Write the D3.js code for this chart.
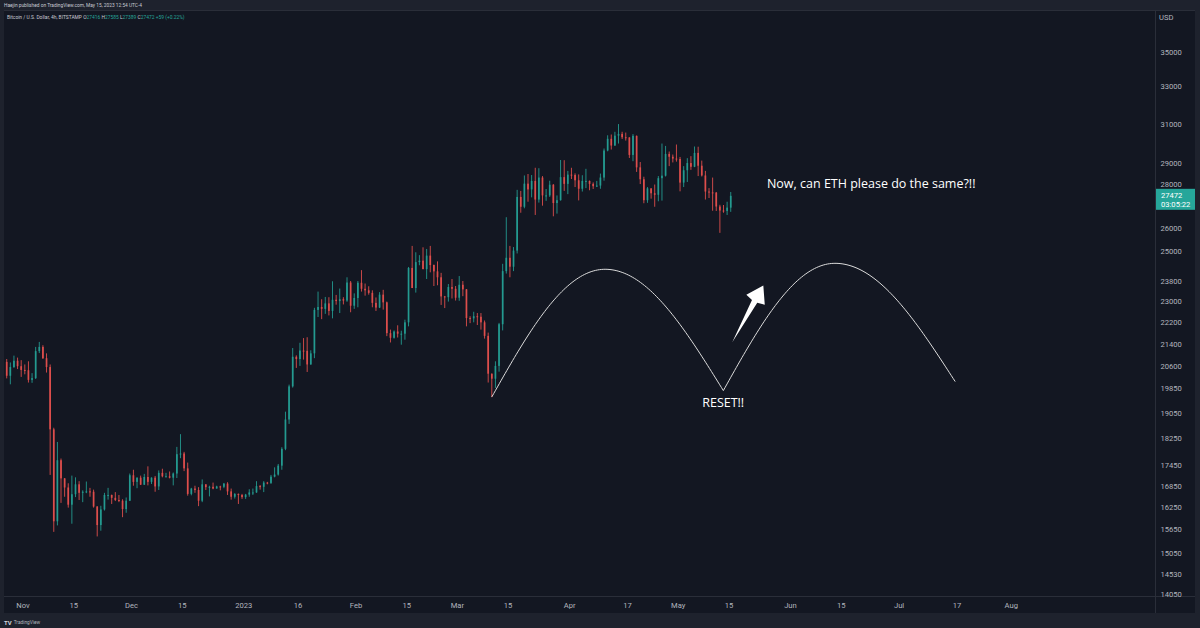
<!DOCTYPE html>
<html><head><meta charset="utf-8">
<script src="https://cdn.jsdelivr.net/npm/d3@7"></script>
<style>
html,body{margin:0;padding:0;background:#1e222d;}
svg{display:block;}
</style></head><body>
<svg id="c" width="1200" height="628"></svg>
<script>
// ---------- DATA (daily OHLC, BTC/USD Bitstamp) ----------
const startDate = "2022-10-27";
const firstOpen = 20770;
const highs = [
20870,20750,20990,20920,20830,
20680,20790,20380,21300,21480,21360,21070,20680,18590,18150,17650,17080,16930,17150,17100,16990,16730,16980,16800,16750,16290,16300,16660,16800,16610,16680,16600,16480,16530,17210,
17320,17100,17150,17200,17420,17100,17140,17300,17350,17230,17270,17240,18000,18390,17850,17530,16800,16860,16820,17040,16900,16860,16950,16860,16860,16940,16960,16780,16650,16640,16630,
16630,16760,16780,16990,16880,16990,16970,17170,17390,17490,17990,19100,19990,21260,21000,21450,21620,21650,21180,22750,23380,23080,23170,23160,23790,23250,23500,23160,23950,23800,23310,
23800,24240,23700,23590,23430,23150,23360,23450,22990,21930,21900,22090,21890,22300,24370,25250,24980,24860,25190,25120,25250,24470,24600,24130,23210,23680,23880,23600,
24000,23800,23480,22430,22600,22550,22550,22270,21820,20370,20790,22180,24500,26500,25250,25200,27750,27700,28430,28500,28450,28800,28780,28400,27790,28180,28020,27490,29180,29170,28650,
28800,28530,28480,28440,28750,28190,28100,28170,28520,29750,30420,30460,30600,31000,30600,30560,30320,30480,30410,29080,28370,27880,27820,28000,28400,30000,29880,29600,29450,29950,
29330,28880,29270,29370,29850,29840,29150,28650,27830,28330,27650,27060,27050,27200,27650
];
const lows = [
20200,20000,20560,20520,20250,
20340,20060,20050,20180,21080,20870,20400,17170,15600,15770,16380,16550,16250,15815,16540,16460,16400,16650,16550,16250,15480,15630,16170,16470,16350,16430,16400,15990,16110,16430,
16860,16790,16880,16880,16870,16910,16690,16740,17100,17100,17070,16870,17080,17660,17280,16580,16590,16660,16290,16400,16740,16560,16760,16780,16730,16790,16600,16470,16500,16350,16490,
16490,16550,16600,16660,16750,16680,16900,16910,17100,17150,17320,17900,18710,19890,20560,20630,20850,20420,20670,20900,22400,22320,22520,22460,22350,22870,22550,22880,22980,22580,22710,
22770,23380,23220,23260,22770,22630,22740,22680,21690,21460,21600,21640,21380,21560,22050,23520,23340,24440,24280,23880,24150,23600,23630,22860,22740,22990,23110,23030,
23020,23200,22050,22170,22200,22100,21930,21600,20060,19570,19880,20430,21900,24100,23950,24200,24930,26700,26900,27200,27400,26600,27160,27020,27240,27420,26540,26660,27250,27700,27550,
28260,27880,27260,27670,27830,27730,27790,27880,27800,28180,29610,29700,29880,30000,30230,30150,29280,29120,28600,28020,27130,27150,27340,26970,27220,27250,28380,28880,29060,29100,
27680,27880,28120,28700,28830,28400,28380,27300,27370,26790,26780,25810,26700,26600,26740
];
const closes = [
20290,20590,20810,20620,20490,
20480,20150,20210,21150,21300,20900,20590,18540,15880,17600,17070,16810,16330,16620,16900,16660,16690,16700,16690,16280,15780,16200,16600,16600,16520,16460,16440,16210,16440,17160,
16970,17090,16890,17110,16970,17090,16840,17230,17130,17130,17090,17210,17780,17800,17360,16630,16780,16740,16440,16900,16820,16830,16780,16840,16830,16920,16700,16550,16630,16600,16540,
16610,16670,16670,16850,16830,16950,16940,17120,17180,17440,17940,18850,19930,20950,20870,21170,21160,20680,21070,22670,22780,22710,22920,22630,23060,23010,23080,23030,23740,22830,23130,
23730,23490,23430,23330,22940,22760,23260,22960,21800,21630,21860,21780,21780,22200,24330,23520,24570,24630,24280,24840,24450,24190,23950,23190,23160,23560,23490,23140,
23650,23470,22360,22350,22430,22410,22200,21700,20360,20190,20630,22130,24200,24750,24380,25050,27420,26970,28040,27770,28170,27300,28330,27490,27490,27990,27140,27270,28350,28030,28470,
28450,28200,27800,28170,28170,28030,27920,27950,28330,29650,30240,29900,30400,30490,30320,30310,29430,30390,28820,28250,27270,27820,27590,27520,28300,28420,29480,29340,29250,29230,
28090,28680,29030,28850,29530,28900,28430,27670,27630,27620,26980,26800,26780,26930,27472
];
const priceTicks = [35000,33000,31000,29000,28000,26000,25000,23800,23000,22200,21400,20600,19850,19050,18250,17450,16850,16250,15650,15050,14530,14050];
const timeTicks = ["2022-11-01","2022-11-15","2022-12-01","2022-12-15","2023-01-01","2023-01-16","2023-02-01","2023-02-15","2023-03-01","2023-03-15","2023-04-01","2023-04-17","2023-05-01","2023-05-15","2023-06-01","2023-06-15","2023-07-01","2023-07-17","2023-08-01"];
const timeTickLabels = ["Nov","15","Dec","15","2023","16","Feb","15","Mar","15","Apr","17","May","15","Jun","15","Jul","17","Aug"];
const lastPrice = 27472;
const countdown = "03:05:22";
const legendLabel = "Bitcoin / U.S. Dollar, 4h, BITSTAMP";
const legendOHLC = [["O","27416"],["H","27585"],["L","27389"],["C","27472"]];
const legendChange = "+59 (+0.22%)";
const headerText = "Haejin published on TradingView.com, May 15, 2023 12:54 UTC-4";
// annotations (date, price)
const arc1 = [["2023-03-10T12:00Z",19580],["2023-04-10T19:00Z",24275],["2023-05-13T11:00Z",19790]];
const arc2 = [["2023-05-13T11:00Z",19790],["2023-06-13T07:00Z",24520],["2023-07-16T12:00Z",20093]];
const arrowPts = [["2023-05-15T22:00Z",21470],["2023-05-24T12:00Z",23620]];
const notes = [
  {text:"RESET!!", date:"2023-05-13T10:00Z", price:19383, anchor:"middle"},
  {text:"Now, can ETH please do the same?!!", date:"2023-05-25T12:00Z", price:28024, anchor:"start"}
];

// ---------- LAYOUT ----------
const W=1200,H=628;
const pane={x0:4,x1:1155,y0:11,y1:596};
const axisR=1195, timeBottom=613;
const UP="#26a69a", DOWN="#ef5350", BG="#131722", FRAME="#1e222d", LINE="#2a2e39", TXT="#b2b5be";
const FONT="Roboto, 'Noto Sans', sans-serif";

const svg=d3.select("#c");
svg.append("rect").attr("width",W).attr("height",H).attr("fill",FRAME);
svg.append("rect").attr("x",pane.x0).attr("y",pane.y0).attr("width",axisR-pane.x0).attr("height",timeBottom-pane.y0).attr("fill",BG);
svg.append("line").attr("x1",pane.x1+0.5).attr("x2",pane.x1+0.5).attr("y1",pane.y0).attr("y2",timeBottom).attr("stroke",LINE);
svg.append("line").attr("x1",pane.x0).attr("x2",axisR).attr("y1",pane.y1+0.5).attr("y2",pane.y1+0.5).attr("stroke",LINE);
svg.append("line").attr("x1",pane.x0).attr("x2",axisR).attr("y1",pane.y0-0.5).attr("y2",pane.y0-0.5).attr("stroke",LINE);

const pd=d3.utcParse("%Y-%m-%d");
const x=d3.scaleUtc().domain([pd("2022-11-01"),pd("2023-08-01")]).range([23,1011.3]);
const y=d3.scaleLog().domain([14050,35000]).range([594,52]);

const t0=pd(startDate);
const candles=closes.map((c,i)=>({
  date:d3.utcHour.offset(d3.utcDay.offset(t0,i),12),
  o:i===0?firstOpen:closes[i-1], h:highs[i], l:lows[i], c:c
}));

svg.append("defs").append("clipPath").attr("id","pc").append("rect")
  .attr("x",pane.x0).attr("y",pane.y0).attr("width",pane.x1-pane.x0).attr("height",pane.y1-pane.y0);
const g=svg.append("g").attr("clip-path","url(#pc)");

const bw=1.7;
const cg=g.append("g").attr("opacity",0.92).selectAll("g").data(candles).join("g");
cg.append("line")
  .attr("x1",d=>x(d.date)).attr("x2",d=>x(d.date))
  .attr("y1",d=>y(d.h)).attr("y2",d=>y(d.l))
  .attr("stroke",d=>d.c>=d.o?UP:DOWN).attr("stroke-width",0.9);
cg.append("rect")
  .attr("x",d=>x(d.date)-bw/2).attr("width",bw)
  .attr("y",d=>y(Math.max(d.o,d.c)))
  .attr("height",d=>Math.max(1,Math.abs(y(d.o)-y(d.c))))
  .attr("fill",d=>d.c>=d.o?UP:DOWN);

// ---------- annotations ----------
const pt=p=>[x(new Date(p[0])),y(p[1])];
function humpPath(a){
  const p0=pt(a[0]),pk=pt(a[1]),p1=pt(a[2]),pts=[],n=60;
  for(let i=0;i<=n;i++){const t=i/n;pts.push([p0[0]+(pk[0]-p0[0])*t,p0[1]+(pk[1]-p0[1])*Math.sin(t*Math.PI/2)]);}
  for(let i=1;i<=n;i++){const t=i/n;pts.push([pk[0]+(p1[0]-pk[0])*t,pk[1]+(p1[1]-pk[1])*(1-Math.cos(t*Math.PI/2))]);}
  return d3.line()(pts);
}
[arc1,arc2].forEach(a=>g.append("path").attr("d",humpPath(a)).attr("fill","none").attr("stroke","#dcdcdc").attr("stroke-width",1));

(function(){
  const a=pt(arrowPts[0]),b=pt(arrowPts[1]);
  const dx=b[0]-a[0],dy=b[1]-a[1],L=Math.hypot(dx,dy);
  const u=[dx/L,dy/L],n=[-u[1],u[0]];
  const loc=[[0,0],[0.72,3.0],[0.75,10.5],[1,0],[0.75,-10.5],[0.72,-3.0]];
  const poly=loc.map(([s,c])=>[a[0]+u[0]*s*L+n[0]*c,a[1]+u[1]*s*L+n[1]*c]);
  g.append("path").attr("d",d3.line()(poly)+"Z").attr("fill","#ffffff");
})();

notes.forEach(nt=>{
  g.append("text").attr("x",x(new Date(nt.date))).attr("y",y(nt.price))
   .attr("text-anchor",nt.anchor).attr("dominant-baseline","central")
   .attr("fill","#ffffff").attr("font-family","'Open Sans', sans-serif").attr("font-size",12.5)
   .text(nt.text);
});

// ---------- price axis ----------
const pa=svg.append("g").attr("font-family",FONT).attr("font-size",7.6).attr("fill",TXT);
pa.selectAll("text.tick").data(priceTicks).join("text").attr("class","tick")
  .attr("x",1160.5).attr("y",d=>y(d)).attr("dominant-baseline","central").text(d=>d);
pa.append("text").attr("x",1159).attr("y",17.5).attr("dominant-baseline","central").text("USD");
const ly=y(lastPrice);
svg.append("rect").attr("x",pane.x1+1).attr("y",ly-7).attr("width",axisR-pane.x1-1).attr("height",21).attr("fill",UP);
svg.append("text").attr("x",1161).attr("y",ly-0.5).attr("dominant-baseline","central").attr("fill","#fff")
  .attr("font-family",FONT).attr("font-size",7.6).text(lastPrice);
svg.append("text").attr("x",1161).attr("y",ly+8.5).attr("dominant-baseline","central").attr("fill","#fff")
  .attr("font-family",FONT).attr("font-size",7.6).text(countdown);

// ---------- time axis ----------
const ta=svg.append("g").attr("font-family",FONT).attr("font-size",7.6).attr("fill",TXT);
ta.selectAll("text").data(timeTicks).join("text")
  .attr("x",d=>x(pd(d))).attr("y",605).attr("text-anchor","middle").attr("dominant-baseline","central")
  .text((d,i)=>timeTickLabels[i]);

// ---------- header & legend ----------
svg.append("text").attr("x",4).attr("y",5.5).attr("dominant-baseline","central")
  .attr("font-family",FONT).attr("font-size",4.8).attr("fill","#c8cbd3").text(headerText);
const lg=svg.append("text").attr("x",7).attr("y",16.5).attr("dominant-baseline","central")
  .attr("font-family",FONT).attr("font-size",4.9).attr("fill","#c8cbd3");
lg.append("tspan").text(legendLabel+" ");
legendOHLC.forEach(([k,v])=>{lg.append("tspan").text(" "+k);lg.append("tspan").attr("fill",UP).text(v);});
lg.append("tspan").attr("fill",UP).text("  "+legendChange);

// ---------- footer logo ----------
const ft=svg.append("text").attr("x",4).attr("y",621.5).attr("dominant-baseline","central")
  .attr("font-family",FONT).attr("fill","#b2b5be");
ft.append("tspan").attr("font-size",6).attr("font-weight","bold").attr("fill","#d1d4dc").text("TV");
ft.append("tspan").attr("font-size",4.8).attr("dx",2).text("TradingView");
</script>
</body></html>
